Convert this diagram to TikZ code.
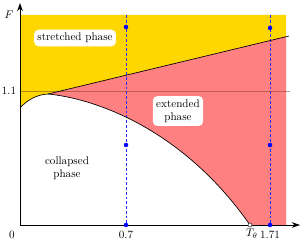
\documentclass[tikz,border=0pt]{standalone}
\usepackage{xcolor}
\usepackage{tikz}
\usetikzlibrary{positioning, arrows.meta}
\definecolor{phaseGold}{HTML}{FFD700}
\definecolor{phaseRed}{HTML}{FF8080}
\definecolor{levelBrown}{HTML}{7A3C1E}

\begin{document}
\begin{tikzpicture}[
  x=0.9pt, y=-0.9pt,
  axis/.style={-{Stealth[length=2.6mm, width=1.8mm]}, line width=0.8pt, color=black},
  border/.style={line width=0.6pt, color=black},
  level/.style={line width=0.7pt, color=levelBrown, opacity=0.5},
  probe/.style={dash pattern=on 2.5pt off 1.8pt, line width=0.35pt, color=blue!85!white},
  dot/.style={circle, fill=blue, draw=blue, inner sep=0pt, minimum size=3.6pt},
  opendot/.style={circle, draw=black, fill=white, inner sep=0pt, minimum size=3.6pt, line width=0.4pt},
  phase/.style={fill=white, rounded corners=4pt, align=center, inner sep=3pt},
  tick/.style={inner sep=1pt}
]
\useasboundingbox (0,0) rectangle (305,240);

% ---------- KEY POINTS ----------
\coordinate (O) at (20,225);
\coordinate (ytop) at (20,3);
\coordinate (xend) at (300,225);
\coordinate (touch) at (48,94);
\coordinate (lend) at (289,36);
\coordinate (redge) at (286,36.5);
\coordinate (Ttheta) at (250,225);

% ---------- PHASE REGIONS ----------
\fill[phaseGold] (20,15) -- (286,15) -- (redge) -- (touch)
  .. controls (38,94.5) and (28,99) .. (20,108) -- cycle;
\fill[phaseRed] (touch) -- (redge) -- (286,225) -- (Ttheta)
  .. controls (180,125) and (90,98) .. (touch) -- cycle;

% ---------- LEVEL F = 1.1 ----------
\coordinate (lv0) at (20,91);
\coordinate (lv1) at (290,91);
\draw[level] (lv0) -- (lv1);

% ---------- PROBE LINES ----------
\coordinate (atop) at (126,15);
\coordinate (abot) at (126,225);
\coordinate (btop) at (270,15);
\coordinate (bbot) at (270,225);
\draw[probe] (atop) -- (abot);
\draw[probe] (btop) -- (bbot);

% ---------- BOUNDARIES ----------
\draw[border] (20,108) .. controls (28,99) and (38,94.5) .. (touch)
  .. controls (90,98) and (180,125) .. (Ttheta);
\draw[border] (touch) -- (lend);

% ---------- AXES ----------
\draw[axis] (O) -- (xend);
\draw[axis] (O) -- (ytop);

% ---------- PROBE POINTS ----------
\node[dot] (a1) at (126,27) {};
\node[dot] (a2) at (126,145) {};
\node[dot] (a3) at (abot) {};
\node[dot] (b1) at (270,28) {};
\node[dot] (b2) at (270,145) {};
\node[dot] (b3) at (bbot) {};
\node[opendot] (tt) at (Ttheta) {};

% ---------- LABELS ----------
\node[tick] (lF) at (9,15) {$F$};
\node[tick] (l11) at (9,91) {1.1};
\node[tick] (l0) at (12,235) {0};
\node[tick] (l07) at (126,235) {0.7};
\node[tick] (lT) at (252,234) {$T_\theta$};
\node[tick] (l171) at (270,235) {1.71};

\node[phase] (stretched) at (75,38) {stretched phase};
\node[phase] (extended) at (178,111) {extended\\phase};
\node[align=center] (collapsed) at (67,168) {collapsed\\phase};

\end{tikzpicture}
\end{document}
